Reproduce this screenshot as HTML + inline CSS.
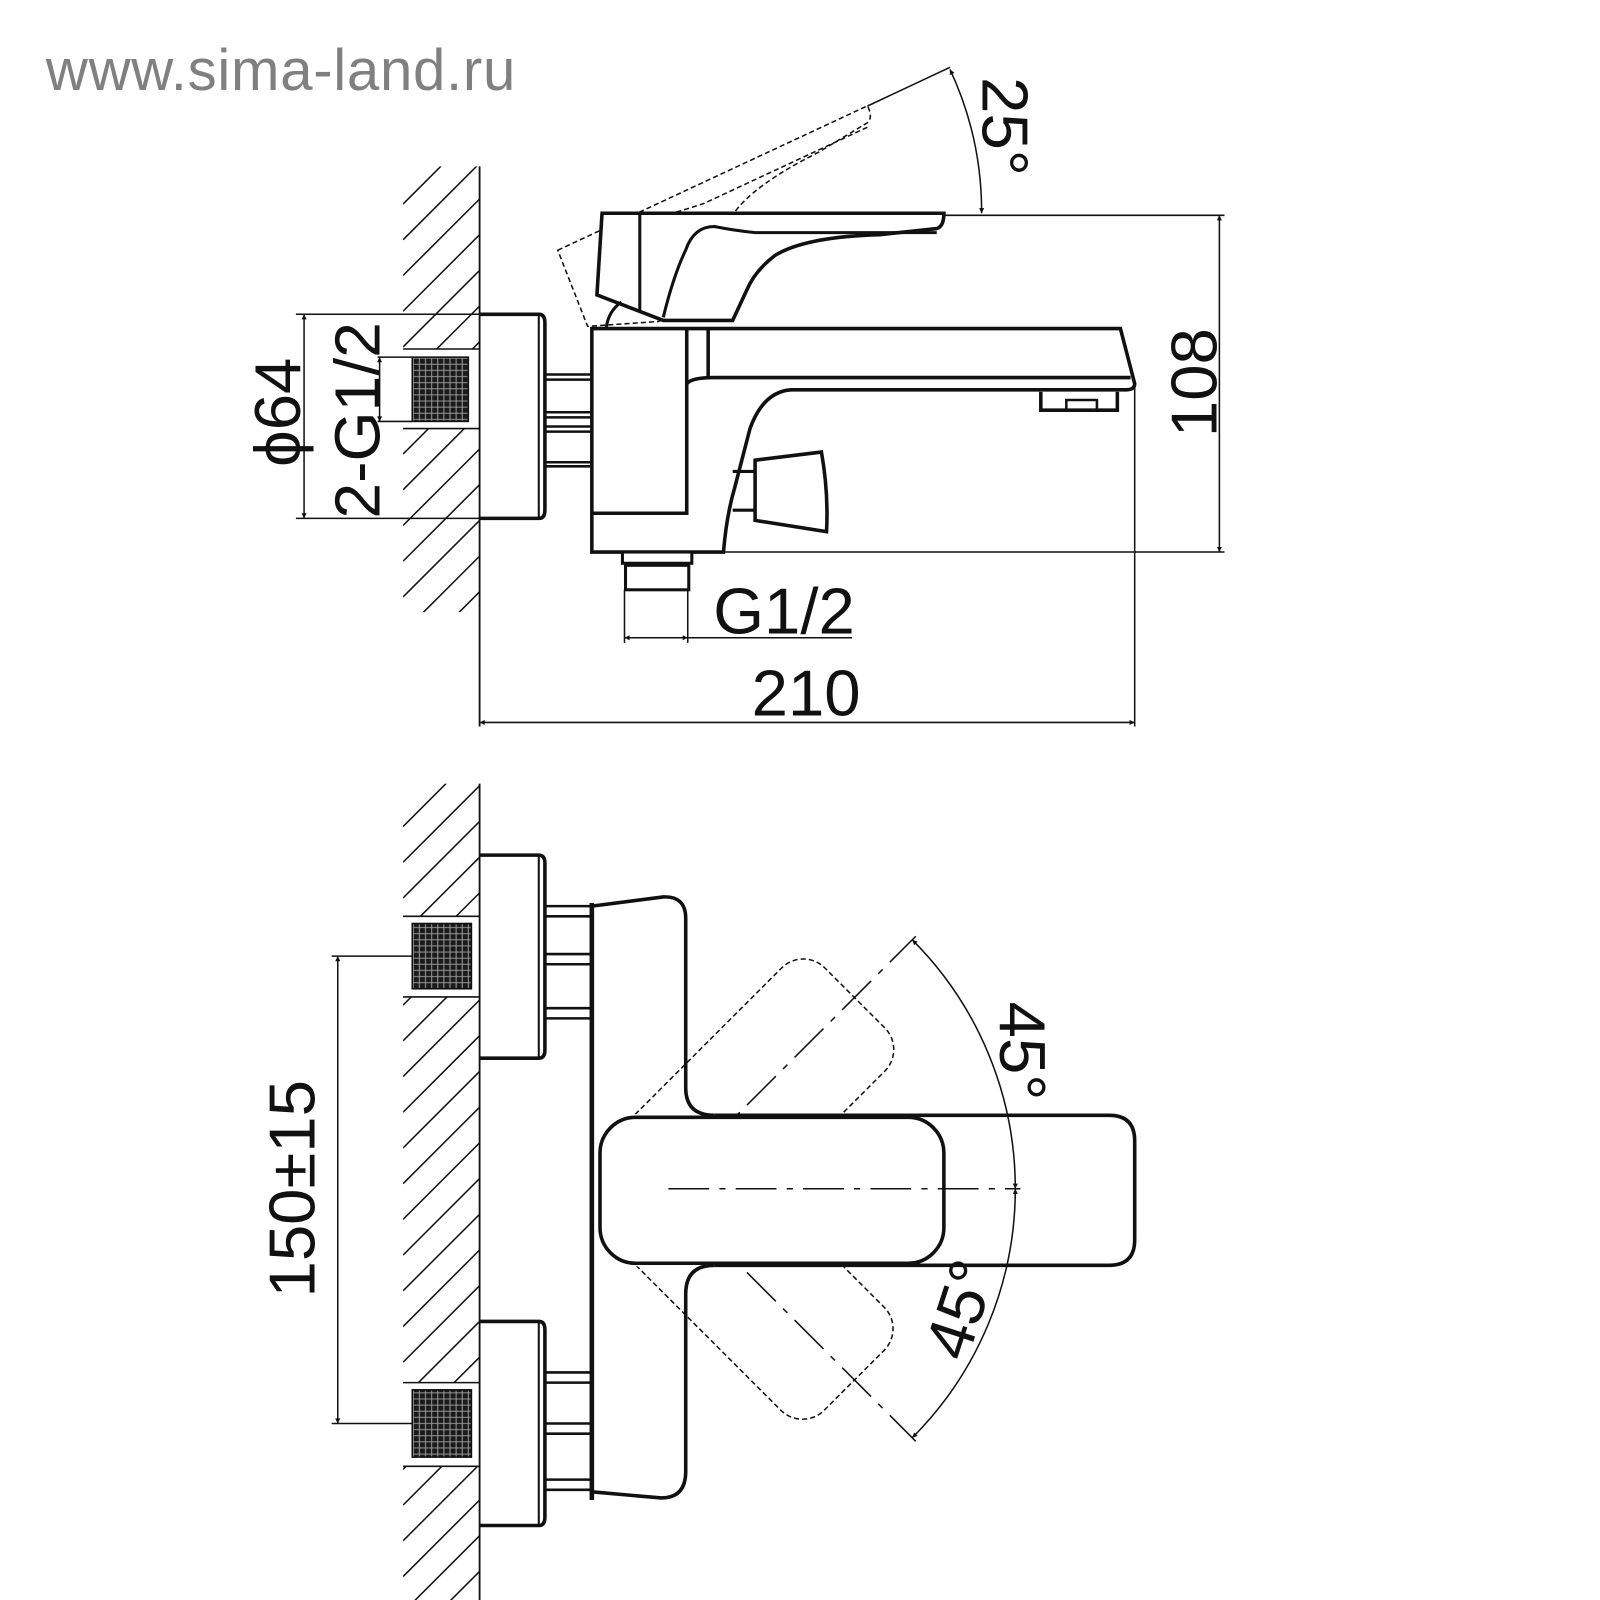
<!DOCTYPE html>
<html><head><meta charset="utf-8"><style>
html,body{margin:0;padding:0;background:#fff;}
svg{display:block;}
text{font-family:"Liberation Sans",Arial,sans-serif;fill:#111;}
</style></head><body>
<svg width="1600" height="1600" viewBox="0 0 1568 1568" xmlns="http://www.w3.org/2000/svg">
<defs>
<marker id="ar" viewBox="0 0 10 10" refX="10" refY="5" markerWidth="14" markerHeight="5" markerUnits="userSpaceOnUse" orient="auto-start-reverse"><path d="M0,0 L10,5 L0,10 z" fill="#111"/></marker>
<pattern id="mesh" width="6" height="6" patternUnits="userSpaceOnUse"><rect width="6" height="6" fill="#1a1a1a"/><path d="M3,0V6M0,3H6" stroke="#9a9a9a" stroke-width="1"/></pattern>
<clipPath id="hTop"><path d="M395,163H470V342H395Z M395,420H470V600H395Z"/></clipPath>
<clipPath id="hBot"><path d="M395,768H470V898H395Z M395,977H470V1355H395Z M395,1437H470V1568H395Z"/></clipPath>
<clipPath id="cUp"><rect x="0" y="0" width="1568" height="1092"/></clipPath>
<clipPath id="cDn"><rect x="0" y="1241" width="1568" height="400"/></clipPath>
</defs>

<text x="45" y="88" font-size="57" style="fill:#808080" textLength="460">www.sima-land.ru</text>

<!-- ================= TOP VIEW ================= -->
<g stroke="#111" fill="none">
<line x1="470" y1="163" x2="470" y2="712" stroke-width="1.8"/>
<g clip-path="url(#hTop)" stroke-width="1.5">
<path d="M395,200L470,125M395,235L470,160M395,270L470,195M395,305L470,230M395,340L470,265M395,375L470,300M395,410L470,335M395,445L470,370M395,480L470,405M395,515L470,440M395,550L470,475M395,585L470,510M395,620L470,545M395,655L470,580M395,690L470,615"/>
</g>
<path d="M395,342H470M395,420H470" stroke-width="1.5"/>
<path d="M370,350H404M370,413H404" stroke-width="1.5"/>
<rect x="404" y="350" width="55" height="63" fill="url(#mesh)" stroke="#111" stroke-width="1.5"/>
<path d="M290,308H470M290,508H470" stroke-width="1.5"/>
<line x1="298" y1="308" x2="298" y2="508" stroke-width="1.5" marker-start="url(#ar)" marker-end="url(#ar)"/>
<line x1="372" y1="350" x2="372" y2="413" stroke-width="1.5" marker-start="url(#ar)" marker-end="url(#ar)"/>
<path d="M470,308H528Q534,308 534,316V500Q534,508 528,508H470" stroke-width="3.5"/>
<line x1="528" y1="308" x2="528" y2="508" stroke-width="2"/>
<path d="M534,367H580M534,372H580M534,404H580M534,409H580M534,418H580M534,423H580M534,453H580M534,457H580" stroke-width="2.5"/>

<g transform="rotate(-25,650,325)" stroke-dasharray="5,3" stroke-width="1.5">
<path d="M590,209H925Q925,222 918,224L862,230Q790,232 760,250Q740,265 732,284L718,314H650L585,289Z"/>
<path d="M650,311Q660,270 672,245Q680,222 700,222Q720,226 740,228H918"/>
</g>
<line x1="850" y1="104" x2="931" y2="66" stroke-width="1.5"/>
<path d="M962,209A330,330 0 0 0 931,68" stroke-width="1.5" marker-start="url(#ar)" marker-end="url(#ar)"/>
<line x1="925" y1="211" x2="1200" y2="211" stroke-width="1.5"/>

<path d="M580,541V322H1098L1112,376Q1112,382 1104,382H775Q748,384 735,420L720,478Q712,505 709,541Z" fill="#fff" stroke-width="3.5"/>
<path d="M673,322V503H580" stroke-width="3.5"/>
<path d="M673,376Q678,370 700,370H1108" stroke-width="3.5"/>
<line x1="694" y1="322" x2="694" y2="369" stroke-width="3.5"/>
<path d="M1020,384V402H1095V384" stroke-width="3.5"/>
<path d="M1045,402V392H1075V402" stroke-width="2.5"/>
<path d="M718,462H740M718,500H740" stroke-width="3"/>
<path d="M740,451L805,443Q812,482 810,521L740,510Z" fill="#fff" stroke-width="3.5"/>
<rect x="610" y="541" width="68" height="11" fill="#fff" stroke-width="3"/>
<rect x="613" y="554" width="62" height="24" fill="#fff" stroke-width="3"/>
<path d="M590,209H925Q925,222 918,224L862,230Q790,232 760,250Q740,265 732,284L718,314H650L585,289Z" fill="#fff" stroke-width="3.5"/>
<path d="M627,209V304" stroke-width="3"/>
<path d="M650,311Q660,270 672,245Q680,222 700,222Q720,226 740,228H918" stroke-width="3"/>
<path d="M594,322Q596,305 609,296" stroke-width="3"/>

<line x1="1195" y1="211" x2="1195" y2="541" stroke-width="1.5" marker-start="url(#ar)" marker-end="url(#ar)"/>
<line x1="678" y1="541" x2="1200" y2="541" stroke-width="1.5"/>
<path d="M612,578V630M674,578V630" stroke-width="1.5"/>
<line x1="612" y1="625" x2="835" y2="625" stroke-width="1.5"/>
<line x1="640" y1="625" x2="612" y2="625" stroke-width="1.5" marker-end="url(#ar)"/>
<line x1="646" y1="625" x2="674" y2="625" stroke-width="1.5" marker-end="url(#ar)"/>
<line x1="1112" y1="380" x2="1112" y2="712" stroke-width="1.5"/>
<line x1="470" y1="708" x2="1112" y2="708" stroke-width="1.5" marker-start="url(#ar)" marker-end="url(#ar)"/>
</g>
<text x="0" y="0" font-size="64" transform="translate(294,404) rotate(-90)" text-anchor="middle">ϕ64</text>
<text x="0" y="0" font-size="63" transform="translate(372,412) rotate(-90)" text-anchor="middle">2-G1/2</text>
<text x="0" y="0" font-size="64" transform="translate(1192,375) rotate(-90)" text-anchor="middle">108</text>
<text x="0" y="0" font-size="64" transform="translate(963,124) rotate(90)" text-anchor="middle">25°</text>
<text x="699" y="621" font-size="64">G1/2</text>
<text x="790" y="701" font-size="64" text-anchor="middle">210</text>

<!-- ================= BOTTOM VIEW ================= -->
<g stroke="#111" fill="none">
<line x1="470" y1="768" x2="470" y2="1568" stroke-width="1.8"/>
<g clip-path="url(#hBot)" stroke-width="1.5">
<path d="M395,810L470,735M395,845L470,770M395,880L470,805M395,915L470,840M395,950L470,875M395,985L470,910M395,1020L470,945M395,1055L470,980M395,1090L470,1015M395,1125L470,1050M395,1160L470,1085M395,1195L470,1120M395,1230L470,1155M395,1265L470,1190M395,1300L470,1225M395,1335L470,1260M395,1370L470,1295M395,1405L470,1330M395,1440L470,1365M395,1475L470,1400M395,1510L470,1435M395,1545L470,1470M395,1580L470,1505M395,1615L470,1540"/>
</g>
<path d="M395,898H470M395,977H470M395,1355H470M395,1437H470" stroke-width="1.5"/>
<rect x="404" y="905" width="58" height="64" fill="url(#mesh)" stroke="#111" stroke-width="1.5"/>
<rect x="404" y="1362" width="58" height="66" fill="url(#mesh)" stroke="#111" stroke-width="1.5"/>
<path d="M325,937H404M325,1395H404" stroke-width="1.5"/>
<line x1="331" y1="937" x2="331" y2="1395" stroke-width="1.5" marker-start="url(#ar)" marker-end="url(#ar)"/>
<path d="M470,838H528Q534,838 534,846V1029Q534,1037 528,1037H470" stroke-width="3.5"/>
<line x1="528" y1="838" x2="528" y2="1037" stroke-width="2"/>
<path d="M470,1295H528Q534,1295 534,1303V1487Q534,1495 528,1495H470" stroke-width="3.5"/>
<line x1="528" y1="1295" x2="528" y2="1495" stroke-width="2"/>
<path d="M534,888H580M534,898H580M534,935H580M534,945H580M534,988H580M534,998H580" stroke-width="2.5"/>
<path d="M534,1345H580M534,1355H580M534,1395H580M534,1405H580M534,1450H580M534,1460H580" stroke-width="2.5"/>
<line x1="580" y1="885" x2="580" y2="1470" stroke-width="4.5"/>
<path d="M580,888L650,879Q672,878 672,900V1066Q672,1093 700,1093" stroke-width="3.5"/>
<path d="M700,1240Q672,1240 672,1268V1442Q672,1468 648,1468L580,1462" stroke-width="3.5"/>

<g clip-path="url(#cUp)">
<g transform="rotate(-45,650,1165)">
<rect x="500" y="1094" width="415" height="143" rx="30" stroke-width="1.5" stroke-dasharray="5,3"/>
<line x1="700" y1="1165" x2="1000" y2="1165" stroke-width="1.5" stroke-dasharray="40,10,6,10"/>
</g>
</g>
<g clip-path="url(#cDn)">
<g transform="rotate(45,650,1165)">
<rect x="500" y="1094" width="415" height="143" rx="30" stroke-width="1.5" stroke-dasharray="5,3"/>
<line x1="700" y1="1165" x2="1000" y2="1165" stroke-width="1.5" stroke-dasharray="40,10,6,10"/>
</g>
</g>
<path d="M700,1093H1087Q1112,1093 1112,1118V1215Q1112,1240 1087,1240H700" stroke-width="3.5"/>
<rect x="588" y="1095" width="337" height="143" rx="35" stroke-width="3.5"/>
<line x1="655" y1="1165" x2="1000" y2="1165" stroke-width="1.5" stroke-dasharray="40,10,6,10"/>
<path d="M995,1165A345,345 0 0 0 894,921" stroke-width="1.5" marker-start="url(#ar)" marker-end="url(#ar)"/>
<path d="M995,1165A345,345 0 0 1 894,1409" stroke-width="1.5" marker-start="url(#ar)" marker-end="url(#ar)"/>
</g>
<text x="0" y="0" font-size="64" transform="translate(308,1165) rotate(-90)" text-anchor="middle">150±15</text>
<text x="0" y="0" font-size="64" transform="translate(980,1030) rotate(90)" text-anchor="middle">45°</text>
<text x="0" y="0" font-size="64" transform="translate(962,1290) rotate(-72)" text-anchor="middle">45°</text>
</svg>
</body></html>
